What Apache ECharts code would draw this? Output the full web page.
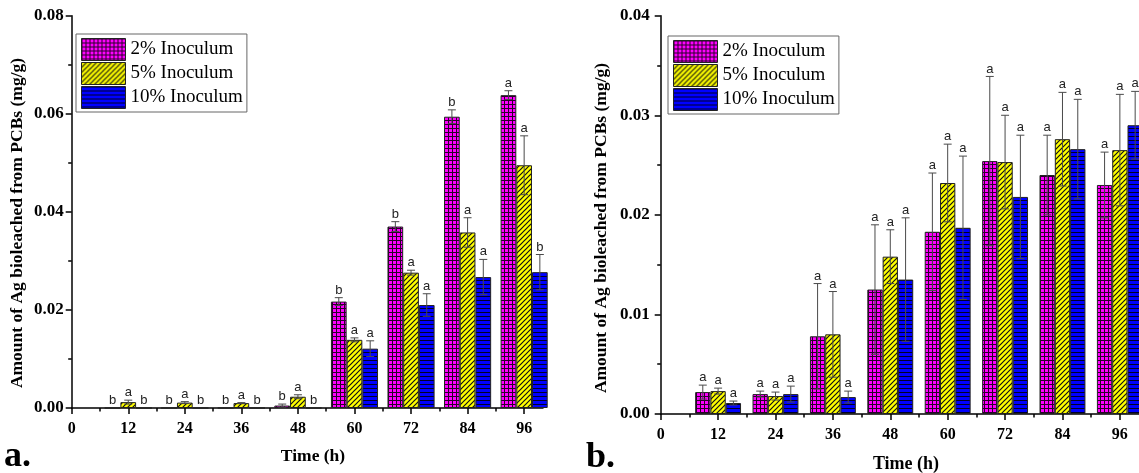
<!DOCTYPE html>
<html>
<head>
<meta charset="utf-8">
<script src="https://cdn.jsdelivr.net/npm/echarts@6.0.0/dist/echarts.min.js"></script>
<style>
  html, body { margin: 0; padding: 0; background: #fff; }
  #main { width: 1139px; height: 473px; }
</style>
</head>
<body>
<div id="main"></div>
<script>
// categories / ticks
const times = [12, 24, 36, 48, 60, 72, 84, 96];
const xTicks = [0, 12, 24, 36, 48, 60, 72, 84, 96];
const xMinorTicks = [6, 18, 30, 42, 54, 66, 78, 90];
const seriesNames = ['2% Inoculum', '5% Inoculum', '10% Inoculum'];

// panel a (mg/g)
const a2 = [0, 0, 0, 0.0005, 0.0217, 0.0370, 0.0594, 0.0638];
const a2Err = [0, 0, 0, 0.0003, 0.0008, 0.0010, 0.0014, 0.0009];
const a5 = [0.0012, 0.0011, 0.0010, 0.0023, 0.0139, 0.0276, 0.0358, 0.0495];
const a5Err = [0.0004, 0.0002, 0.0001, 0.0004, 0.0004, 0.0005, 0.0030, 0.0060];
const a10 = [0, 0, 0, 0, 0.0121, 0.0210, 0.0267, 0.0277];
const a10Err = [0, 0, 0, 0, 0.0016, 0.0023, 0.0036, 0.0036];
const a2Sig = ['b', 'b', 'b', 'b', 'b', 'b', 'b', 'a'];
const a5Sig = ['a', 'a', 'a', 'a', 'a', 'a', 'a', 'a'];
const a10Sig = ['b', 'b', 'b', 'b', 'a', 'a', 'a', 'b'];

// panel b (mg/g)
const b2 = [0.0022, 0.0020, 0.0078, 0.0125, 0.0183, 0.0254, 0.0240, 0.0230];
const b2Err = [0.0007, 0.0003, 0.0053, 0.0065, 0.0059, 0.0085, 0.0040, 0.0033];
const b5 = [0.0023, 0.0018, 0.0080, 0.0158, 0.0232, 0.0253, 0.0276, 0.0265];
const b5Err = [0.0003, 0.0004, 0.0043, 0.0027, 0.0039, 0.0047, 0.0047, 0.0056];
const b10 = [0.0011, 0.0020, 0.0017, 0.0135, 0.0187, 0.0218, 0.0266, 0.0290];
const b10Err = [0.0002, 0.0008, 0.0006, 0.0062, 0.0072, 0.0062, 0.0050, 0.0034];
const b2Sig = ['a', 'a', 'a', 'a', 'a', 'a', 'a', 'a'];
const b5Sig = ['a', 'a', 'a', 'a', 'a', 'a', 'a', 'a'];
const b10Sig = ['a', 'a', 'a', 'a', 'a', 'a', 'a', 'a'];

const yTicksA = [0, 0.02, 0.04, 0.06, 0.08];
const yTicksB = [0, 0.01, 0.02, 0.03, 0.04];

const serif = '"Liberation Serif", "Times New Roman", serif';

// hatch fills
function pattern(size, bg, draw) {
  const c = document.createElement('canvas');
  c.width = c.height = size;
  const g = c.getContext('2d');
  g.fillStyle = bg;
  g.fillRect(0, 0, size, size);
  draw(g);
  return { image: c, repeat: 'repeat' };
}
const fills = [
  pattern(4, '#ff00ff', g => { g.fillStyle = '#2a002a'; g.fillRect(0, 0, 4, 1); g.fillRect(0, 0, 1, 4); }),
  pattern(5, '#ffff00', g => {
    g.strokeStyle = '#111'; g.lineWidth = 1.2; g.beginPath();
    g.moveTo(0, 5); g.lineTo(5, 0); g.moveTo(-1, 1); g.lineTo(1, -1); g.moveTo(4, 6); g.lineTo(6, 4);
    g.stroke();
  }),
  pattern(4, '#0000ff', g => { g.fillStyle = '#000028'; g.fillRect(0, 0, 4, 1); })
];

const axisLine = { color: '#000', width: 1.5 };

function errItem(k, bw, sigs) {
  return function (params, api) {
    const x = api.value(0), v = api.value(1), e = api.value(2);
    const base = api.coord([x, v]);
    const cx = base[0] + (k - 1) * bw;
    const hi = api.coord([x, v + e])[1];
    const lo = api.coord([x, Math.max(0, v - e)])[1];
    const st = { stroke: '#4a4a4a', lineWidth: 1 };
    const kids = [];
    if (e > 0) {
      kids.push({ type: 'line', shape: { x1: cx, y1: hi, x2: cx, y2: lo }, style: st });
      kids.push({ type: 'line', shape: { x1: cx - 4, y1: hi, x2: cx + 4, y2: hi }, style: st });
      kids.push({ type: 'line', shape: { x1: cx - 4, y1: lo, x2: cx + 4, y2: lo }, style: st });
    }
    kids.push({
      type: 'text',
      style: {
        x: cx, y: hi - 1, text: sigs[params.dataIndex],
        align: 'center', verticalAlign: 'bottom',
        font: '13px "Liberation Sans", Arial, sans-serif', fill: '#222'
      }
    });
    return { type: 'group', children: kids };
  };
}

function buildPanel(gi, vals, errs, sigs, bw) {
  const out = [];
  for (let k = 0; k < 3; k++) {
    out.push({
      type: 'bar', name: seriesNames[k],
      xAxisIndex: gi * 2, yAxisIndex: gi,
      data: times.map((t, i) => [t, vals[k][i]]),
      barWidth: bw, barGap: '0%',
      itemStyle: { color: fills[k], borderColor: '#222', borderWidth: 1 },
      emphasis: { disabled: true },
      animation: false
    });
  }
  for (let k = 0; k < 3; k++) {
    out.push({
      type: 'custom', name: seriesNames[k] + ' sd',
      xAxisIndex: gi * 2, yAxisIndex: gi,
      data: times.map((t, i) => [t, vals[k][i], errs[k][i]]),
      renderItem: errItem(k, bw, sigs[k]),
      z: 5, silent: true, animation: false
    });
  }
  return out;
}

function xAxes(gi) {
  return [{
    type: 'value', gridIndex: gi, min: 0, max: 100, position: 'bottom',
    axisLine: { lineStyle: axisLine },
    axisTick: { show: true, customValues: xTicks, length: 6, lineStyle: axisLine },
    axisLabel: {
      customValues: xTicks, margin: 13, color: '#000',
      fontFamily: serif, fontWeight: 'bold', fontSize: 16
    },
    splitLine: { show: false }
  }, {
    type: 'value', gridIndex: gi, min: 0, max: 100, position: 'bottom',
    axisLine: { show: false },
    axisTick: { show: true, customValues: xMinorTicks, length: 3.5, lineStyle: axisLine },
    axisLabel: { show: false },
    splitLine: { show: false }
  }];
}

function yAxis(gi, max, interval, margin) {
  return {
    type: 'value', gridIndex: gi, min: 0, max: max, interval: interval,
    axisLine: { show: true, lineStyle: axisLine },
    axisTick: { show: true, length: 6, lineStyle: axisLine },
    minorTick: { show: true, splitNumber: 2, length: 3.5, lineStyle: axisLine },
    splitLine: { show: false },
    axisLabel: {
      margin: margin, color: '#000', fontFamily: serif, fontWeight: 'bold', fontSize: 17,
      formatter: v => v.toFixed(2)
    }
  };
}

function legend(left, top) {
  return {
    data: seriesNames, left: left, top: top, orient: 'vertical',
    icon: 'rect', itemWidth: 44, itemHeight: 22, itemGap: 1,
    padding: [4, 4, 3, 5], borderColor: '#666', borderWidth: 1,
    itemStyle: { borderColor: '#222', borderWidth: 1 },
    selectedMode: false,
    textStyle: { fontFamily: serif, fontSize: 19, lineHeight: 22, color: '#000' }
  };
}

const yTitle = 'Amount of Ag bioleached from PCBs (mg/g)';
const titleFont = 'bold 17.5px ' + serif;

const chart = echarts.init(document.getElementById('main'), null, { renderer: 'canvas' });
chart.setOption({
  backgroundColor: '#fff',
  animation: false,
  grid: [
    { left: 71.7, top: 15.7, width: 471.3, height: 392.3 },
    { left: 660.7, top: 15.7, width: 478.3, height: 398.3 }
  ],
  xAxis: xAxes(0).concat(xAxes(1)),
  yAxis: [yAxis(0, yTicksA[yTicksA.length - 1], 0.02, 8), yAxis(1, yTicksB[yTicksB.length - 1], 0.01, 11)],
  legend: [legend(76, 34), legend(668, 36)],
  series: buildPanel(0, [a2, a5, a10], [a2Err, a5Err, a10Err], [a2Sig, a5Sig, a10Sig], 15.7)
    .concat(buildPanel(1, [b2, b5, b10], [b2Err, b5Err, b10Err], [b2Sig, b5Sig, b10Sig], 15.3)),
  graphic: [
    { type: 'text', x: 17, y: 223, rotation: Math.PI / 2,
      style: { text: yTitle, font: titleFont, fill: '#000', align: 'center', verticalAlign: 'middle' } },
    { type: 'text', x: 601, y: 228, rotation: Math.PI / 2,
      style: { text: yTitle, font: titleFont, fill: '#000', align: 'center', verticalAlign: 'middle' } },
    { type: 'text', x: 313, y: 456,
      style: { text: 'Time (h)', font: titleFont, fill: '#000', align: 'center', verticalAlign: 'middle' } },
    { type: 'text', x: 906, y: 464,
      style: { text: 'Time (h)', font: 'bold 18px ' + serif, fill: '#000', align: 'center', verticalAlign: 'middle' } },
    { type: 'text', x: 4, y: 457,
      style: { text: 'a.', font: 'bold 36px ' + serif, fill: '#000', align: 'left', verticalAlign: 'middle' } },
    { type: 'text', x: 586, y: 458,
      style: { text: 'b.', font: 'bold 36px ' + serif, fill: '#000', align: 'left', verticalAlign: 'middle' } }
  ]
});
</script>
</body>
</html>
